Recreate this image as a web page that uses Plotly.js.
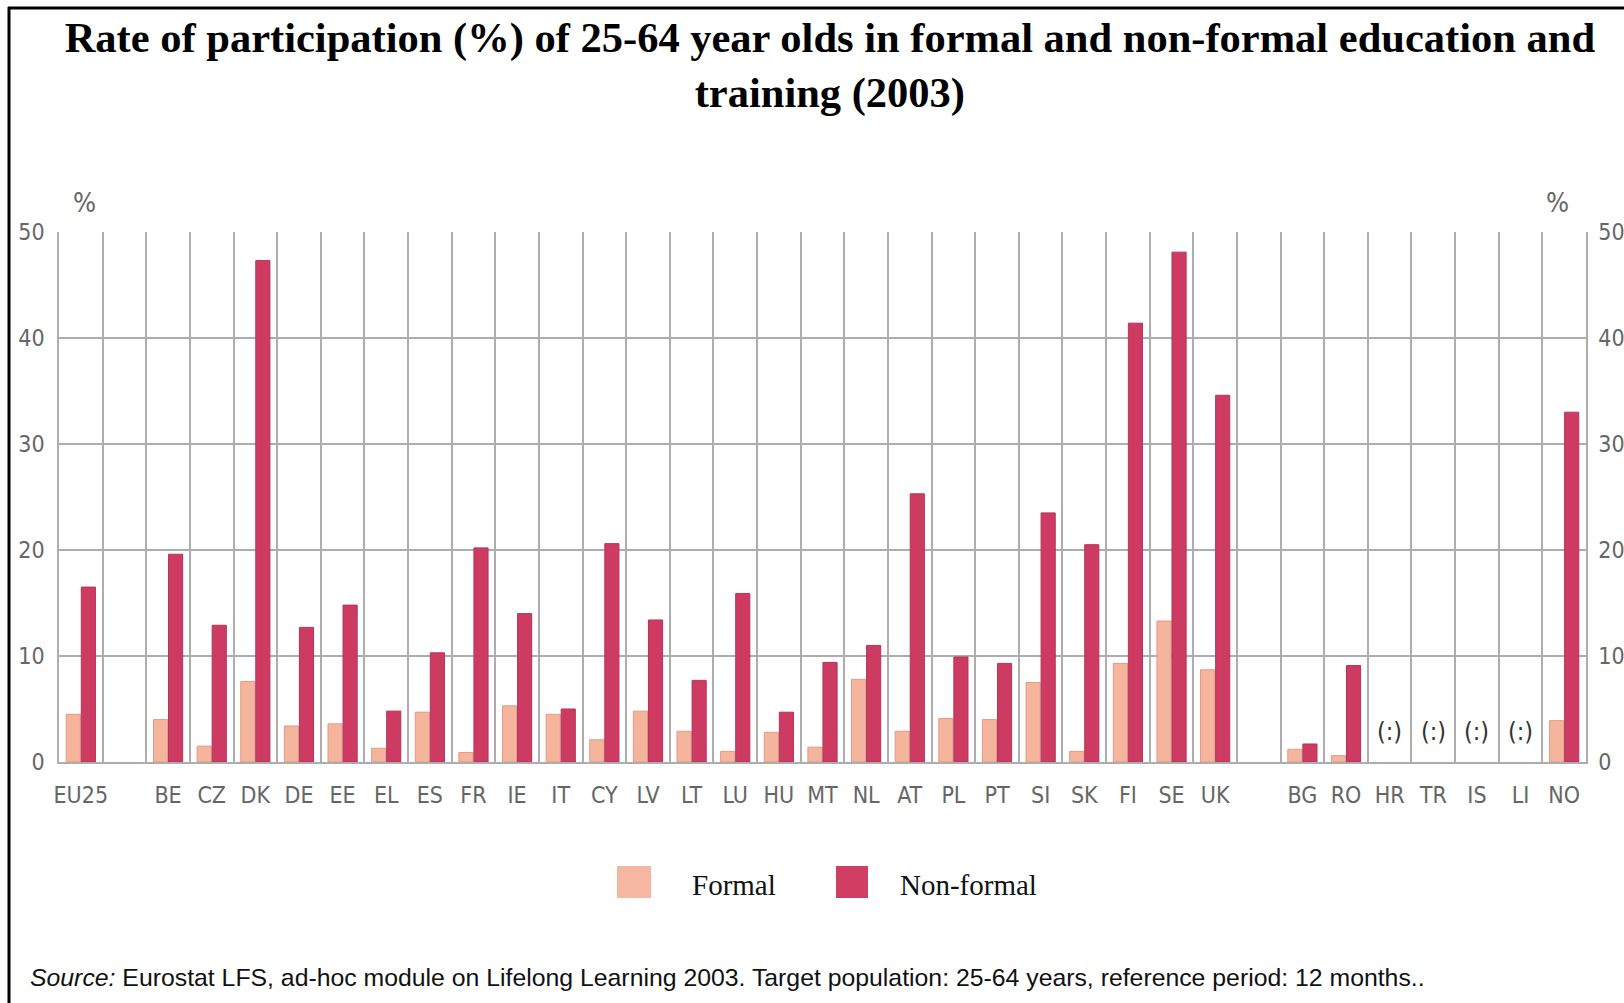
<!DOCTYPE html>
<html>
<head>
<meta charset="utf-8">
<script src="https://cdn.plot.ly/plotly-3.0.1.min.js"></script>
<style>
  html, body { margin: 0; padding: 0; background: #ffffff; }
  #chart { width: 1624px; height: 1003px; }
</style>
</head>
<body>
<div id="chart"></div>
<script>
// Categories (blank entries are the spacer slots of the original chart)
const categories = ["EU25", " ", "BE", "CZ", "DK", "DE", "EE", "EL", "ES", "FR", "IE", "IT", "CY", "LV", "LT", "LU", "HU", "MT", "NL", "AT", "PL", "PT", "SI", "SK", "FI", "SE", "UK", "  ", "BG", "RO", "HR", "TR", "IS", "LI", "NO"];

// Formal education participation (%)
const formal = [4.5, null, 4.0, 1.5, 7.6, 3.4, 3.6, 1.3, 4.7, 0.9, 5.3, 4.5, 2.1, 4.8, 2.9, 1.0, 2.8, 1.4, 7.8, 2.9, 4.1, 4.0, 7.5, 1.0, 9.3, 13.3, 8.7, null, 1.2, 0.6, null, null, null, null, 3.9];

// Non-formal education participation (%)
const nonFormal = [16.5, null, 19.6, 12.9, 47.3, 12.7, 14.8, 4.8, 10.3, 20.2, 14.0, 5.0, 20.6, 13.4, 7.7, 15.9, 4.7, 9.4, 11.0, 25.3, 9.9, 9.3, 23.5, 20.5, 41.4, 48.1, 34.6, null, 1.7, 9.1, null, null, null, null, 33.0];

// Countries without data, marked "(:)"
const notAvailable = ["HR", "TR", "IS", "LI"];
const notAvailableLabel = "(:)";

const seriesNames = ["Formal", "Non-formal"];
const yTicks = [0, 10, 20, 30, 40, 50];

const titleText = "Rate of participation (%) of 25-64 year olds in formal and non-formal education and<br>training (2003)";
const sourceText = "<i>Source:</i> Eurostat LFS, ad-hoc module on Lifelong Learning 2003. Target population: 25-64 years, reference period: 12 months..";

const colFormal = "#F5B59C";
const colNonFormal = "#CE3B62";
const tickFont = { family: "DejaVu Sans Condensed, DejaVu Sans, Liberation Sans, Arial, sans-serif", size: 23, color: "#666666" };
const gridCol = "#adadad";

const traces = [
  {
    type: "bar", name: seriesNames[0], x: categories, y: formal,
    marker: { color: colFormal, line: { color: "#E09B86", width: 1 } },
    showlegend: false, hoverinfo: "x+y+name"
  },
  {
    type: "bar", name: seriesNames[1], x: categories, y: nonFormal,
    marker: { color: colNonFormal, line: { color: "#B5345A", width: 1 } },
    showlegend: false, hoverinfo: "x+y+name"
  },
  {
    type: "bar", x: categories, y: categories.map(() => null),
    yaxis: "y2", showlegend: false, hoverinfo: "skip"
  }
];

// pixel -> paper helpers (plot area: x 59..1586, y 232..762)
const L = 59, R = 38, T = 232, B = 241, W = 1624, H = 1003;
const pw = W - L - R, ph = H - T - B;
const px = v => (v - L) / pw;
const py = v => (H - B - v) / ph;

const annotations = [];
notAvailable.forEach(c => {
  annotations.push({
    x: c, y: 2.9, xref: "x", yref: "y", text: notAvailableLabel, showarrow: false,
    font: { family: "DejaVu Sans Condensed, DejaVu Sans, Arial, sans-serif", size: 25, color: "#333333" }
  });
});
// "%" unit labels
const pctFont = { family: tickFont.family, size: 27, color: "#666666" };
annotations.push({ x: px(71), y: py(203), xref: "paper", yref: "paper", yanchor: "middle", text: "%", showarrow: false, font: pctFont });
annotations.push({ x: px(1571), y: py(203), xref: "paper", yref: "paper", yanchor: "middle", text: "%", showarrow: false, font: pctFont });
// Legend texts
const legFont = { family: "Liberation Serif, Times New Roman, serif", size: 29, color: "#111111" };
annotations.push({ x: px(690), y: py(885), xref: "paper", yref: "paper", xanchor: "left", yanchor: "middle", text: seriesNames[0], showarrow: false, font: legFont });
annotations.push({ x: px(898), y: py(885), xref: "paper", yref: "paper", xanchor: "left", yanchor: "middle", text: seriesNames[1], showarrow: false, font: legFont });
// Source
annotations.push({
  x: px(28), y: py(977), xref: "paper", yref: "paper", xanchor: "left", yanchor: "middle",
  text: sourceText, showarrow: false,
  font: { family: "Liberation Sans, Arial, sans-serif", size: 24.8, color: "#111111" }
});

const shapes = [
  // legend swatches
  { type: "rect", xref: "paper", yref: "paper", x0: px(617), x1: px(651), y0: py(898), y1: py(866), fillcolor: "#F6B7A2", line: { width: 0 } },
  { type: "rect", xref: "paper", yref: "paper", x0: px(836), x1: px(868), y0: py(898), y1: py(866), fillcolor: "#D03E64", line: { width: 0 } },
  // outer frame (left and top edges)
  { type: "line", xref: "paper", yref: "paper", x0: px(9), x1: px(9), y0: py(7), y1: py(1010), line: { color: "#000000", width: 3 } },
  { type: "line", xref: "paper", yref: "paper", x0: px(8), x1: px(1630), y0: py(8), y1: py(8), line: { color: "#000000", width: 3 } }
];

const layout = {
  width: W, height: H,
  margin: { l: L, r: R, t: T, b: B, pad: 0 },
  paper_bgcolor: "#ffffff", plot_bgcolor: "#ffffff",
  title: {
    text: titleText, x: 0.511, xanchor: "center", xref: "container",
    y: 1 - 52 / H, yanchor: "middle", yref: "container",
    font: { family: "Liberation Serif, Times New Roman, serif", size: 42.5, color: "#000000", weight: "bold" }
  },
  barmode: "group", bargap: 0.31, bargroupgap: 0.06,
  xaxis: {
    type: "category", categoryorder: "array", categoryarray: categories,
    range: [-0.5, categories.length - 0.5],
    tickson: "boundaries", showgrid: true, gridcolor: gridCol, gridwidth: 1.5,
    showline: true, linecolor: gridCol, linewidth: 1.5,
    ticks: "", tickangle: 0, ticklabelstandoff: 12, tickfont: tickFont, fixedrange: true
  },
  yaxis: {
    range: [0, 50], tickvals: yTicks, showgrid: true, gridcolor: gridCol, gridwidth: 1.5,
    showline: true, linecolor: gridCol, linewidth: 1.5, zeroline: false,
    ticks: "", ticklabelstandoff: 8, tickfont: tickFont, fixedrange: true
  },
  yaxis2: {
    overlaying: "y", side: "right", range: [0, 50], tickvals: yTicks, showgrid: false,
    showline: true, linecolor: gridCol, linewidth: 1.5, zeroline: false,
    ticks: "", ticklabelstandoff: 6, tickfont: tickFont, fixedrange: true
  },
  annotations: annotations,
  shapes: shapes,
  showlegend: false
};

Plotly.newPlot("chart", traces, layout, { displayModeBar: false });
</script>
</body>
</html>
